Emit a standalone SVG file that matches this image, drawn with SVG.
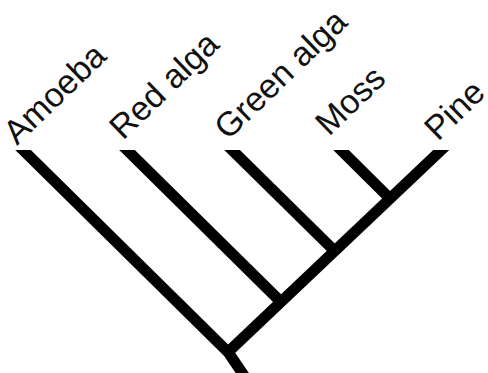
<svg xmlns="http://www.w3.org/2000/svg" width="488" height="373" viewBox="0 0 488 373">
  <style>
    .branch { stroke: #000; stroke-width: 11; fill: none; stroke-linecap: butt; stroke-linejoin: miter; }
    .taxon { font-family: "Liberation Sans", Arial, sans-serif; font-size: 34px; fill: #111; }
  </style>
  <defs>
    <clipPath id="tips">
      <rect x="0" y="150" width="488" height="223"/>
    </clipPath>
  </defs>
  <rect width="488" height="373" fill="#fff"/>

  <!-- tree branches, tips trimmed flat at y=150 -->
  <g id="connectors" clip-path="url(#tips)">
    <polyline class="branch" points="12.9,140 228,352 247,380"/>
    <line class="branch" x1="451.8" y1="140" x2="226" y2="354"/>
    <line class="branch" x1="116.9" y1="140" x2="281" y2="302"/>
    <line class="branch" x1="221.9" y1="140" x2="335" y2="251.4"/>
    <line class="branch" x1="330.9" y1="140" x2="390" y2="198.6"/>
  </g>

  <g id="amoeba"><text class="taxon" transform="translate(17,146) rotate(-44)">Amoeba</text></g>
  <g id="red-alga"><text class="taxon" transform="translate(123,141) rotate(-44)">Red alga</text></g>
  <g id="green-alga"><text class="taxon" transform="translate(228,141) rotate(-44)">Green alga</text></g>
  <g id="moss"><text class="taxon" transform="translate(329,137) rotate(-44)">Moss</text></g>
  <g id="pine"><text class="taxon" transform="translate(438,142) rotate(-44)">Pine</text></g>
</svg>
